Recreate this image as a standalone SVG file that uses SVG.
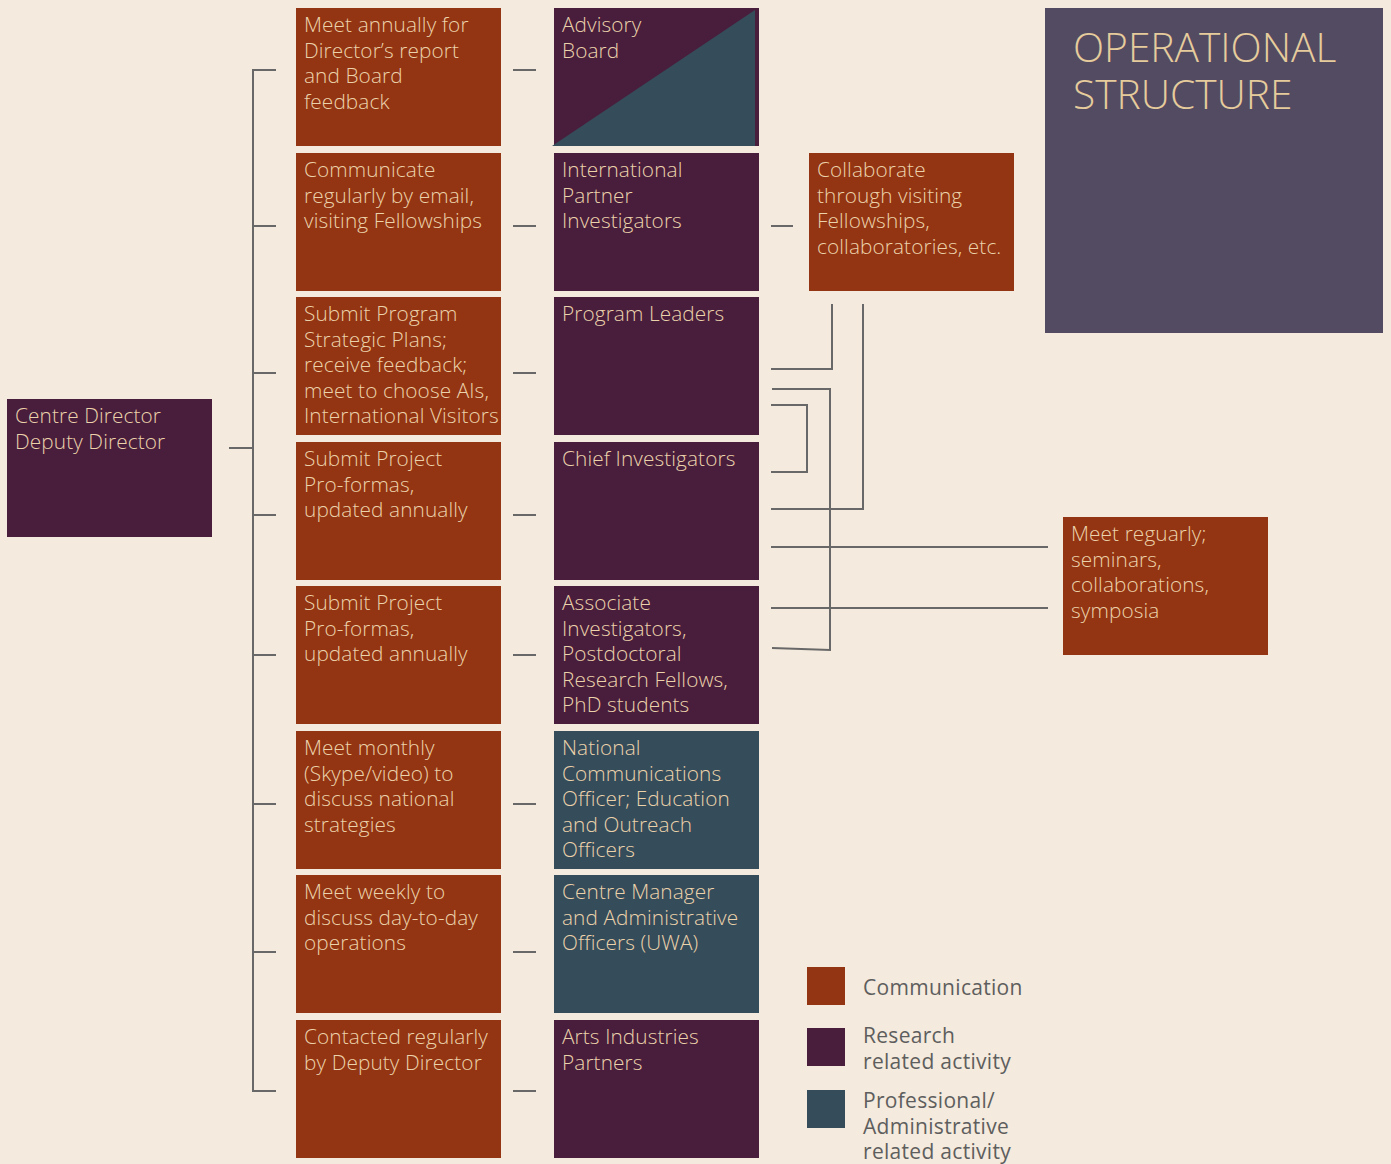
<svg xmlns="http://www.w3.org/2000/svg" width="1391" height="1164" viewBox="0 0 1391 1164">
<style>
.bg{fill:#f4eadd}
.com{fill:#933512}
.res{fill:#481e3c}
.pro{fill:#354c5a}
.t{font-family:"Open Sans","Liberation Sans",sans-serif;font-size:20.8px;letter-spacing:0.1px;font-weight:300;fill:#ecd2ab}
.lg{font-family:"Open Sans","Liberation Sans",sans-serif;font-size:21px;letter-spacing:0.3px;font-weight:400;fill:#5e5e5e}
.title{font-family:"Open Sans","Liberation Sans",sans-serif;font-size:40.7px;font-weight:300;fill:#e6cc9c}
.ln{fill:none;stroke:#686868;stroke-width:2}
</style>
<rect class="bg" x="0" y="0" width="1391" height="1164"/>

<g id="title">
<rect x="1045" y="8" width="338" height="325" fill="#534b62"/>
<text class="title" x="1073" y="62">OPERATIONAL</text>
<text class="title" x="1073" y="109">STRUCTURE</text>
</g>

<g id="connectors">
<path class="ln" d="M276,70 H253 V1091 H276 M253,226 H276 M253,373 H276 M253,515 H276 M253,655 H276 M253,804 H276 M253,952 H276 M229,448 H253"/>
<path class="ln" d="M513,70 H536 M513,226 H536 M513,373 H536 M513,515 H536 M513,655 H536 M513,804 H536 M513,952 H536 M513,1091 H536"/>
<path class="ln" d="M771,226 H793"/>
<path class="ln" d="M771,369 H832 V304"/>
<path class="ln" d="M771,509 H863 V304"/>
<path class="ln" d="M772,389 H830 V650 L772,648"/>
<path class="ln" d="M771,405 H807 V472 H771"/>
<path class="ln" d="M771,547 H1048"/>
<path class="ln" d="M771,608 H1048"/>
</g>

<g id="centre-director">
<rect class="res" x="7" y="399" width="205" height="138"/>
<text class="t" x="15" y="423">Centre Director</text>
<text class="t" x="15" y="448.5">Deputy Director</text>
</g>

<g id="c1">
<rect class="com" x="296" y="8" width="205" height="138"/>
<text class="t" x="304" y="32">Meet annually for</text>
<text class="t" x="304" y="57.5">Director’s report</text>
<text class="t" x="304" y="83">and Board</text>
<text class="t" x="304" y="108.5">feedback</text>
</g>
<g id="c2">
<rect class="com" x="296" y="153" width="205" height="138"/>
<text class="t" x="304" y="177">Communicate</text>
<text class="t" x="304" y="202.5">regularly by email,</text>
<text class="t" x="304" y="228">visiting Fellowships</text>
</g>
<g id="c3">
<rect class="com" x="296" y="297" width="205" height="138"/>
<text class="t" x="304" y="321">Submit Program</text>
<text class="t" x="304" y="346.5">Strategic Plans;</text>
<text class="t" x="304" y="372">receive feedback;</text>
<text class="t" x="304" y="397.5">meet to choose AIs,</text>
<text class="t" x="304" y="423">International Visitors</text>
</g>
<g id="c4">
<rect class="com" x="296" y="442" width="205" height="138"/>
<text class="t" x="304" y="466">Submit Project</text>
<text class="t" x="304" y="491.5">Pro-formas,</text>
<text class="t" x="304" y="517">updated annually</text>
</g>
<g id="c5">
<rect class="com" x="296" y="586" width="205" height="138"/>
<text class="t" x="304" y="610">Submit Project</text>
<text class="t" x="304" y="635.5">Pro-formas,</text>
<text class="t" x="304" y="661">updated annually</text>
</g>
<g id="c6">
<rect class="com" x="296" y="731" width="205" height="138"/>
<text class="t" x="304" y="755">Meet monthly</text>
<text class="t" x="304" y="780.5">(Skype/video) to</text>
<text class="t" x="304" y="806">discuss national</text>
<text class="t" x="304" y="831.5">strategies</text>
</g>
<g id="c7">
<rect class="com" x="296" y="875" width="205" height="138"/>
<text class="t" x="304" y="899">Meet weekly to</text>
<text class="t" x="304" y="924.5">discuss day-to-day</text>
<text class="t" x="304" y="950">operations</text>
</g>
<g id="c8">
<rect class="com" x="296" y="1020" width="205" height="138"/>
<text class="t" x="304" y="1044">Contacted regularly</text>
<text class="t" x="304" y="1069.5">by Deputy Director</text>
</g>

<g id="r1">
<rect class="res" x="554" y="8" width="205" height="138"/>
<polygon class="pro" points="552,146 755,10 755,146"/>
<text class="t" x="562" y="32">Advisory</text>
<text class="t" x="562" y="57.5">Board</text>
</g>
<g id="r2">
<rect class="res" x="554" y="153" width="205" height="138"/>
<text class="t" x="562" y="177">International</text>
<text class="t" x="562" y="202.5">Partner</text>
<text class="t" x="562" y="228">Investigators</text>
</g>
<g id="r3">
<rect class="res" x="554" y="297" width="205" height="138"/>
<text class="t" x="562" y="321">Program Leaders</text>
</g>
<g id="r4">
<rect class="res" x="554" y="442" width="205" height="138"/>
<text class="t" x="562" y="466">Chief Investigators</text>
</g>
<g id="r5">
<rect class="res" x="554" y="586" width="205" height="138"/>
<text class="t" x="562" y="610">Associate</text>
<text class="t" x="562" y="635.5">Investigators,</text>
<text class="t" x="562" y="661">Postdoctoral</text>
<text class="t" x="562" y="686.5">Research Fellows,</text>
<text class="t" x="562" y="712">PhD students</text>
</g>
<g id="r6">
<rect class="pro" x="554" y="731" width="205" height="138"/>
<text class="t" x="562" y="755">National</text>
<text class="t" x="562" y="780.5">Communications</text>
<text class="t" x="562" y="806">Officer; Education</text>
<text class="t" x="562" y="831.5">and Outreach</text>
<text class="t" x="562" y="857">Officers</text>
</g>
<g id="r7">
<rect class="pro" x="554" y="875" width="205" height="138"/>
<text class="t" x="562" y="899">Centre Manager</text>
<text class="t" x="562" y="924.5">and Administrative</text>
<text class="t" x="562" y="950">Officers (UWA)</text>
</g>
<g id="r8">
<rect class="res" x="554" y="1020" width="205" height="138"/>
<text class="t" x="562" y="1044">Arts Industries</text>
<text class="t" x="562" y="1069.5">Partners</text>
</g>

<g id="collaborate">
<rect class="com" x="809" y="153" width="205" height="138"/>
<text class="t" x="817" y="177">Collaborate</text>
<text class="t" x="817" y="202.5">through visiting</text>
<text class="t" x="817" y="228">Fellowships,</text>
<text class="t" x="817" y="253.5">collaboratories, etc.</text>
</g>

<g id="meet-regularly">
<rect class="com" x="1063" y="517" width="205" height="138"/>
<text class="t" x="1071" y="541">Meet reguarly;</text>
<text class="t" x="1071" y="566.5">seminars,</text>
<text class="t" x="1071" y="592">collaborations,</text>
<text class="t" x="1071" y="617.5">symposia</text>
</g>

<g id="legend">
<rect class="com" x="807" y="967" width="38" height="38"/>
<rect class="res" x="807" y="1028" width="38" height="38"/>
<rect class="pro" x="807" y="1090" width="38" height="38"/>
<text class="lg" x="863" y="995">Communication</text>
<text class="lg" x="863" y="1043">Research</text>
<text class="lg" x="863" y="1068.5">related activity</text>
<text class="lg" x="863" y="1108">Professional/</text>
<text class="lg" x="863" y="1133.5">Administrative</text>
<text class="lg" x="863" y="1159">related activity</text>
</g>
</svg>
